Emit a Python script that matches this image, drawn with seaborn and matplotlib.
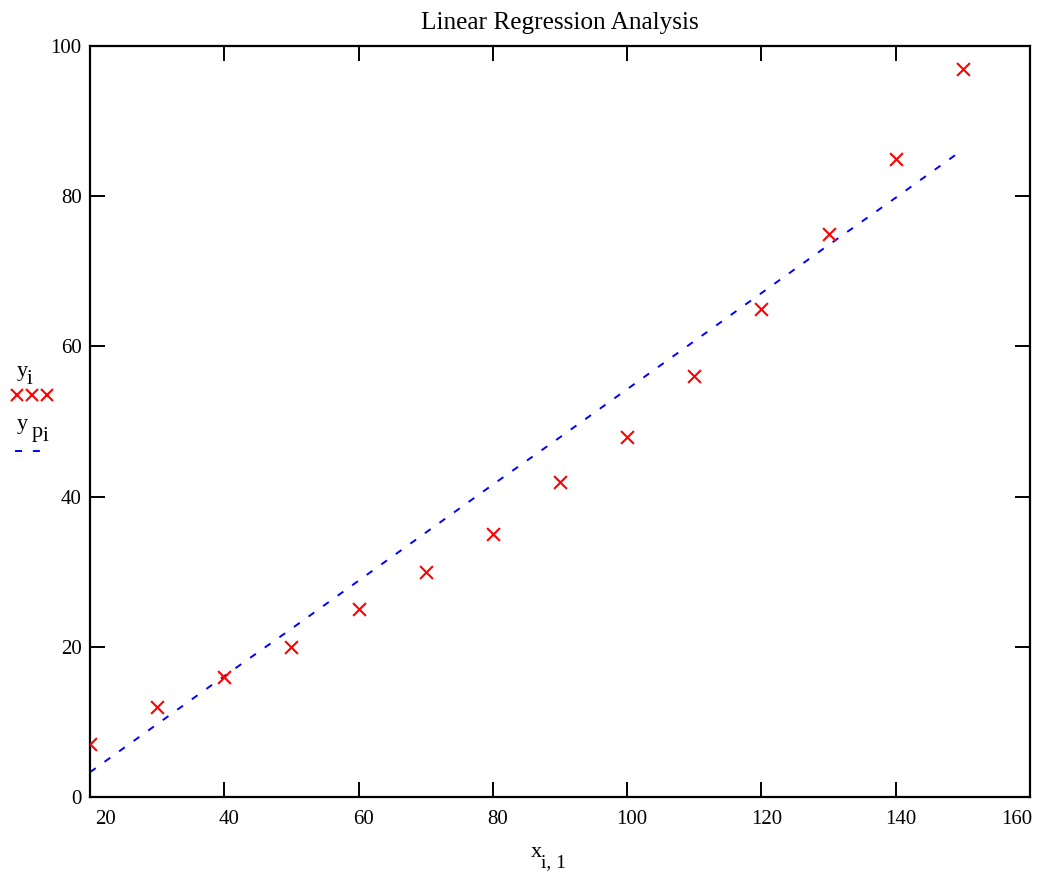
import matplotlib
matplotlib.use("Agg")
import matplotlib.pyplot as plt
import matplotlib.transforms as mtransforms
from matplotlib.lines import Line2D
import pandas as pd
import seaborn as sns

# data
x_vals = [20, 30, 40, 50, 60, 70, 80, 90, 100, 110, 120, 130, 140, 150]
y_vals = [7, 12, 16, 20, 25, 30, 35, 42, 48, 56, 65, 75, 85, 97]
yp_vals = [3.3, 9.7, 16.1, 22.4, 28.8, 35.2, 41.6, 47.9, 54.3, 60.7, 67.1, 73.5, 79.8, 86.2]
x_ticks = [20, 40, 60, 80, 100, 120, 140, 160]
y_ticks = [0, 20, 40, 60, 80, 100]

df = pd.DataFrame({"x": x_vals, "y": y_vals, "yp": yp_vals})

sns.set_style("ticks")
plt.rcParams["font.family"] = ["Liberation Serif", "DejaVu Serif"]
plt.rcParams["text.color"] = "black"
plt.rcParams["axes.labelcolor"] = "black"

W, H = 1038, 876
DASH = (0, (3.6, 5.6))
fig = plt.figure(figsize=(W / 100, H / 100), dpi=100)
ax = fig.add_axes([90 / W, 1 - 797 / H, 940 / W, 751 / H])

sns.lineplot(data=df, x="x", y="yp", ax=ax, color="blue", lw=1.4,
             linestyle=DASH, zorder=2)
sns.scatterplot(data=df, x="x", y="y", ax=ax, marker="x", color="red",
                s=85, linewidth=1.5, zorder=3)

ax.set_xlim(20, 160)
ax.set_ylim(0, 100)
ax.set_xticks(x_ticks)
ax.set_yticks(y_ticks)
ax.tick_params(direction="in", length=11, width=1.4, top=True, right=True,
               labelsize=15, colors="black")
ax.tick_params(axis="x", pad=9)
ax.tick_params(axis="y", pad=6)

# Mathcad nudges the x labels a little to the right, keeps end labels inside
xlabels = ax.get_xticklabels()
for i, lab in enumerate(xlabels):
    dx = 5
    if i == 0:
        lab.set_horizontalalignment("left")
    elif i == len(xlabels) - 1:
        lab.set_horizontalalignment("right")
        dx = 2
    lab.set_transform(lab.get_transform() +
                      mtransforms.ScaledTranslation(dx / 100, 0, fig.dpi_scale_trans))

for sp in ax.spines.values():
    sp.set_visible(True)
    sp.set_linewidth(1.6)
    sp.set_color("black")

ax.set_title("Linear Regression Analysis", fontsize=18.2, pad=12, color="black")
ax.set_xlabel("")
ax.set_ylabel("")

# x axis label: x with subscript "i, 1"
fig.text(531 / W, 1 - 857 / H, "x", fontsize=16, ha="left", va="baseline")
fig.text(541 / W, 1 - 867 / H, "i, 1", fontsize=14, ha="left", va="baseline")

# legend drawn at left, Mathcad style
fig.text(17 / W, 1 - 376 / H, "y", fontsize=16, ha="left", va="baseline")
fig.text(27 / W, 1 - 384 / H, "i", fontsize=15, ha="left", va="baseline")
fig.add_artist(Line2D([17 / W, 32 / W, 47 / W], [1 - 395 / H] * 3,
                      marker="x", linestyle="none", color="red",
                      markersize=8.5, markeredgewidth=1.5))
fig.text(17 / W, 1 - 429 / H, "y", fontsize=16, ha="left", va="baseline")
fig.text(32 / W, 1 - 437 / H, "p", fontsize=16, ha="left", va="baseline")
fig.text(43 / W, 1 - 441 / H, "i", fontsize=15, ha="left", va="baseline")
fig.add_artist(Line2D([15 / W, 41 / W], [1 - 451 / H] * 2,
                      color="blue", lw=1.4, linestyle=DASH))

plt.savefig("out.png", dpi=100)
